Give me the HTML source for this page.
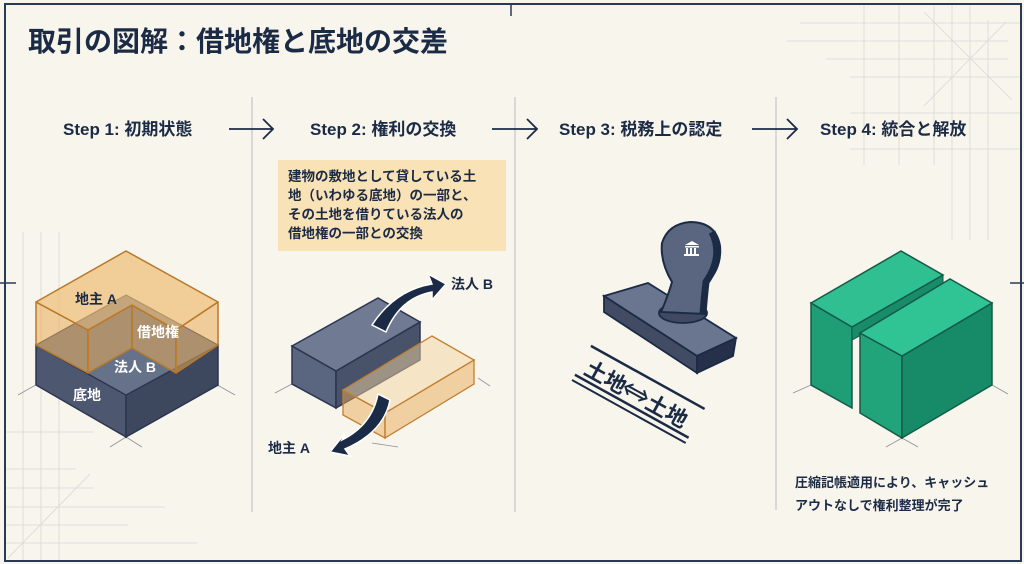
<!DOCTYPE html>
<html><head><meta charset="utf-8"><style>
html,body{margin:0;padding:0;background:#f8f5ec;}
svg{display:block;}
text{font-family:"Liberation Sans","Noto Sans CJK JP",sans-serif;font-weight:bold;fill:#1c2b45;}
</style></head><body>
<svg width="1024" height="564" viewBox="0 0 1024 564" xmlns="http://www.w3.org/2000/svg">
<rect width="1024" height="564" fill="#f8f5ec"/>
<g stroke="#d6d8da" stroke-width="0.8" fill="none">
 <line x1="23" y1="232" x2="23" y2="561"/><line x1="41" y1="232" x2="41" y2="561"/><line x1="59" y1="232" x2="59" y2="561"/>
 <line x1="5" y1="432" x2="93" y2="432"/><line x1="5" y1="469" x2="76" y2="469"/><line x1="5" y1="488" x2="93" y2="488"/>
 <line x1="5" y1="507" x2="165" y2="507"/><line x1="5" y1="525" x2="128" y2="525"/><line x1="5" y1="543" x2="198" y2="543"/>
 <line x1="8" y1="558" x2="90" y2="474"/>
 <line x1="864" y1="4" x2="864" y2="165"/><line x1="899" y1="4" x2="899" y2="165"/><line x1="934" y1="4" x2="934" y2="165"/>
 <line x1="952" y1="4" x2="952" y2="240"/><line x1="970" y1="4" x2="970" y2="240"/><line x1="988" y1="20" x2="988" y2="240"/>
 <line x1="800" y1="23" x2="1021" y2="23"/><line x1="786" y1="41" x2="1008" y2="41"/><line x1="826" y1="59" x2="1008" y2="59"/>
 <line x1="850" y1="77" x2="1021" y2="77"/><line x1="850" y1="113" x2="1021" y2="113"/><line x1="850" y1="149" x2="1021" y2="149"/>
 <line x1="924" y1="12" x2="1012" y2="100"/><line x1="1006" y1="22" x2="924" y2="106"/>
</g>
<rect x="5" y="4" width="1016" height="557" fill="none" stroke="#2a3a55" stroke-width="2"/>
<line x1="511" y1="4" x2="511" y2="16" stroke="#2a3a55" stroke-width="1.5"/>
<line x1="0" y1="283" x2="16" y2="283" stroke="#2a3a55" stroke-width="1.5"/>
<line x1="1010" y1="283" x2="1024" y2="283" stroke="#2a3a55" stroke-width="1.5"/>
<g stroke="#b9bcc2" stroke-width="1">
 <line x1="252" y1="97" x2="252" y2="512"/><line x1="515" y1="97" x2="515" y2="512"/><line x1="776" y1="97" x2="776" y2="510"/>
</g>
<text x="28" y="51" font-size="28">取引の図解：借地権と底地の交差</text>
<g font-size="17">
<text x="63" y="135">Step 1: 初期状態</text>
<text x="310" y="135">Step 2: 権利の交換</text>
<text x="559" y="135">Step 3: 税務上の認定</text>
<text x="820" y="135">Step 4: 統合と解放</text>
</g>
<g stroke="#1c2b45" stroke-width="1.8" fill="none">
 <path d="M229 129 H273 M263 119 L273 129 L263 139"/>
 <path d="M492 129 H537 M527 119 L537 129 L527 139"/>
 <path d="M752 129 H797 M787 119 L797 129 L787 139"/>
</g>
<!-- Step1 -->
<g stroke="#8a8f99" stroke-width="0.8">
 <line x1="18" y1="395" x2="48" y2="378"/><line x1="205" y1="378" x2="235" y2="395"/>
 <line x1="110" y1="447" x2="126" y2="437"/><line x1="126" y1="437" x2="142" y2="447"/>
</g>
<polygon points="36,345 126,395 126,437 36,385" fill="#4d5870" stroke="#2a3550" stroke-width="1.5"/>
<polygon points="126,395 218,345 218,385 126,437" fill="#3d475e" stroke="#2a3550" stroke-width="1.5"/>
<polygon points="36,345 126,295 218,345 126,395" fill="#66718a" stroke="#2a3550" stroke-width="1.2"/>
<g fill="#e7a955" fill-opacity="0.55" stroke="#b9782a" stroke-width="1.5" stroke-linejoin="round">
 <polygon points="36,302 88,330 88,373 36,345"/>
 <polygon points="88,330 132,305 132,348 88,373"/>
 <polygon points="132,305 176,330 176,373 132,348"/>
 <polygon points="176,330 218,302 218,345 176,373"/>
 <polygon points="36,302 126,251 218,302 176,330 132,305 88,330" fill="#eebc74" fill-opacity="0.7"/>
</g>
<text x="75" y="304" font-size="14">地主 A</text>
<text x="137" y="337" font-size="14" style="fill:#fff">借地権</text>
<text x="114" y="372" font-size="14" style="fill:#fff">法人 B</text>
<text x="73" y="400" font-size="14" style="fill:#fff">底地</text>
<!-- Step2 -->
<rect x="278" y="160" width="228" height="91" fill="#f9e3b6"/>
<g font-size="13.5">
<text x="288" y="181">建物の敷地として貸している土</text>
<text x="288" y="200">地（いわゆる底地）の一部と、</text>
<text x="288" y="219">その土地を借りている法人の</text>
<text x="288" y="238">借地権の一部との交換</text>
</g>
<g stroke="#8a8f99" stroke-width="0.8">
 <line x1="275" y1="393" x2="305" y2="377"/><line x1="478" y1="378" x2="490" y2="386"/><line x1="372" y1="443" x2="398" y2="447"/>
</g>
<polygon points="292,346 336,371 336,408 292,384" fill="#5a6580" stroke="#2a3550" stroke-width="1.5"/>
<polygon points="336,371 420,322 420,360 336,408" fill="#485369" stroke="#2a3550" stroke-width="1.5"/>
<polygon points="292,346 378,298 420,322 336,371" fill="#707b93" stroke="#2a3550" stroke-width="1.5"/>
<g fill="#e7a955" fill-opacity="0.5" stroke="#c07f30" stroke-width="1.3">
 <polygon points="343,390 385,413 385,438 343,415"/>
 <polygon points="385,413 474,360 474,384 385,438"/>
 <polygon points="343,390 432,336 474,360 385,413" fill="#f2d49f"/>
</g>
<path d="M372 325 Q395 290 432 284 L428 274 L446 284 L432 300 L432 292 Q400 298 386 332 Z" fill="#1c2b45" stroke="#fff" stroke-width="1.5"/>
<path d="M378 394 Q372 425 342 440 L346 432 L330 452 L350 456 L345 449 Q384 432 390 400 Z" fill="#1c2b45" stroke="#fff" stroke-width="1.5"/>
<text x="451" y="289" font-size="14">法人 B</text>
<text x="268" y="453" font-size="14">地主 A</text>
<!-- Step3 stamp -->
<polygon points="604,296 648,283 736,338 697,356" fill="#6a7590" stroke="#1c2b45" stroke-width="1.8"/>
<polygon points="604,296 697,356 697,373 604,312" fill="#414c64" stroke="#1c2b45" stroke-width="1.8"/>
<polygon points="697,356 736,338 733,356 697,373" fill="#26304a" stroke="#1c2b45" stroke-width="1.8"/>
<ellipse cx="683" cy="313" rx="24" ry="10" fill="#3f4a62" stroke="#1c2b45" stroke-width="1.8"/>
<path d="M661 312 Q668 296 672 282 Q660 262 662 243 Q668 224 690 222 Q716 222 720 246 Q722 268 706 284 Q706 300 705 314 Z" fill="#5a6580" stroke="#1c2b45" stroke-width="2"/>
<path d="M712 232 Q724 256 706 282 Q704 300 703 314" fill="none" stroke="#1c2b45" stroke-width="7"/>
<g fill="#fff"><polygon points="685,245 692,241 699,245"/><rect x="685" y="246" width="14" height="1.5"/><rect x="686" y="248" width="2" height="6"/><rect x="690" y="248" width="2" height="6"/><rect x="694" y="248" width="2" height="6"/><rect x="684" y="254" width="15" height="2"/></g>
<g transform="translate(630,395) rotate(29)">
 <line x1="-58" y1="-24" x2="72" y2="-24" stroke="#1c2b45" stroke-width="2.5"/>
 <line x1="-58" y1="9" x2="72" y2="9" stroke="#1c2b45" stroke-width="2.5"/>
 <line x1="-58" y1="15" x2="72" y2="15" stroke="#1c2b45" stroke-width="2"/>
 <text x="-52" y="4" font-size="22">土地</text>
 <path d="M-6 -7 H14 M-6 -3 H14 M-2 -11 L-8 -5 L-2 1 M10 -11 L16 -5 L10 1" stroke="#1c2b45" stroke-width="2" fill="none"/>
 <text x="18" y="4" font-size="22">土地</text>
</g>
<!-- Step4 -->
<g stroke="#8a8f99" stroke-width="0.8">
 <line x1="793" y1="393" x2="811" y2="385"/><line x1="992" y1="385" x2="1008" y2="394"/>
 <line x1="886" y1="447" x2="902" y2="438"/><line x1="902" y1="438" x2="918" y2="447"/>
</g>
<polygon points="811,303 852,327 852,408 811,385" fill="#1f9e76" stroke="#145a48" stroke-width="1.5"/>
<polygon points="852,327 943,275 943,290 852,340" fill="#188c68" stroke="#145a48" stroke-width="1"/>
<polygon points="811,303 901,251 943,275 852,327" fill="#2fbf90" stroke="#145a48" stroke-width="1.5"/>
<polygon points="860,333 902,356 902,438 860,413" fill="#22a47b" stroke="#145a48" stroke-width="1.5"/>
<polygon points="902,356 992,303 992,385 902,438" fill="#178a67" stroke="#145a48" stroke-width="1.5"/>
<polygon points="860,333 950,279 992,303 902,356" fill="#30c393" stroke="#145a48" stroke-width="1.5"/>
<text x="795" y="487" font-size="13">圧縮記帳適用により、キャッシュ</text>
<text x="795" y="510" font-size="13">アウトなしで権利整理が完了</text>
</svg>
</body></html>
